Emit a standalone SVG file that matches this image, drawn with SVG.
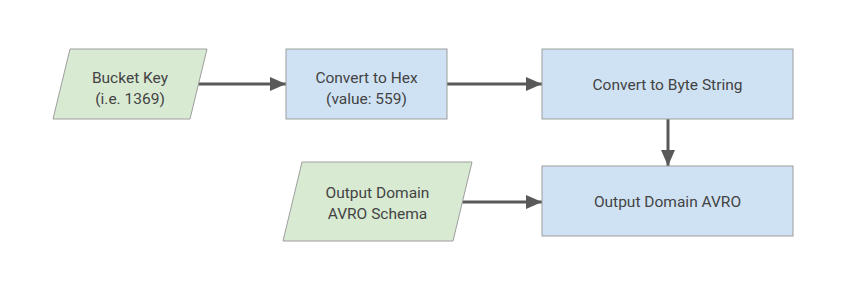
<svg xmlns="http://www.w3.org/2000/svg" width="858" height="300" viewBox="0 0 858 300">
<style>
.g{fill:#d9ead3;stroke:#9e9e9e;stroke-width:1}
.b{fill:#cfe2f3;stroke:#9e9e9e;stroke-width:1}
text{font-family:Roboto,"Liberation Sans",sans-serif;font-size:15.5px;fill:#434343;text-anchor:middle}
.c{stroke:#595959;stroke-width:3;fill:none;marker-end:url(#a)}
</style>
<defs>
<marker id="a" markerUnits="userSpaceOnUse" markerWidth="16" markerHeight="14" refX="16" refY="7" orient="auto">
<path d="M0,0 L16,7 L0,14 Z" fill="#595959"/>
</marker>
</defs>
<rect width="858" height="300" fill="#fff"/>
<g id="connectors">
<path class="c" d="M197,84 H286"/>
<path class="c" d="M447,84 H542"/>
<path class="c" d="M668,119 V166"/>
<path class="c" d="M462,202 H542"/>
</g>
<g id="bucket-key">
<polygon class="g" points="70,49 207,49 190,119 53,119"/>
<text x="130" y="83">Bucket Key</text>
<text x="130" y="104">(i.e. 1369)</text>
</g>
<g id="convert-hex">
<rect class="b" x="286" y="49" width="161" height="70"/>
<text x="366.5" y="83">Convert to Hex</text>
<text x="366.5" y="104">(value: 559)</text>
</g>
<g id="convert-byte">
<rect class="b" x="542" y="49" width="251" height="70"/>
<text x="667.5" y="90">Convert to Byte String</text>
</g>
<g id="output-avro">
<rect class="b" x="542" y="166" width="251" height="70"/>
<text x="667.5" y="207">Output Domain AVRO</text>
</g>
<g id="avro-schema">
<polygon class="g" points="302,162 472,162 453,241 283,241"/>
<text x="377.5" y="198">Output Domain</text>
<text x="377.5" y="219">AVRO Schema</text>
</g>
</svg>
